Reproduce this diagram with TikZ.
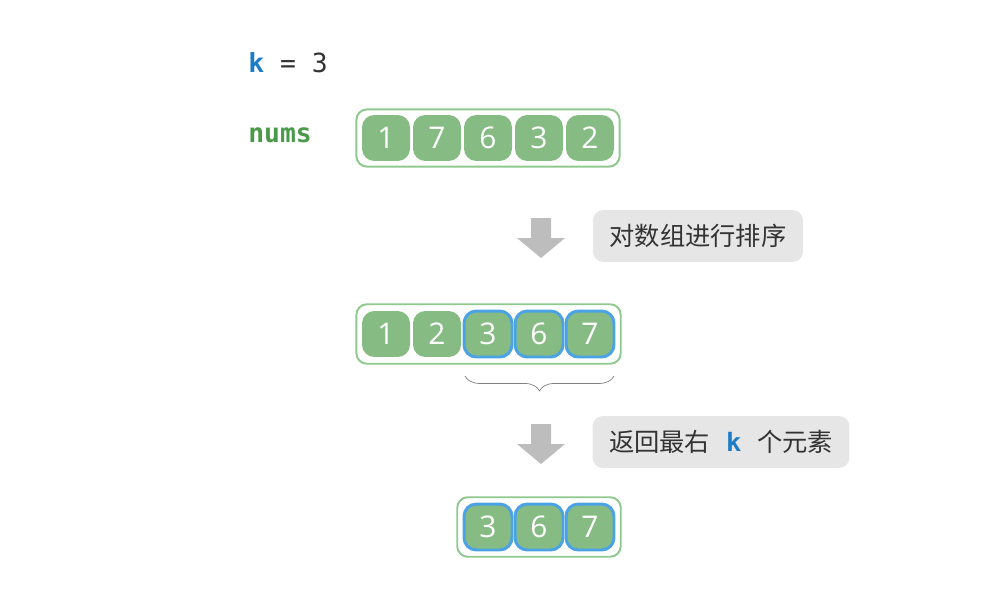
\documentclass[tikz,border=0pt]{standalone}
\usepackage{fontspec}
\setmainfont{Open Sans}
\setmonofont{DejaVu Sans Mono}
\newfontfamily\cjk{Noto Sans CJK SC}
\usetikzlibrary{fit,decorations.pathreplacing}

\definecolor{cellgreen}{HTML}{86BC84}
\definecolor{boxgreen}{HTML}{8FC98D}
\definecolor{cellblue}{HTML}{4BA3E6}
\definecolor{kblue}{HTML}{1C7CC6}
\definecolor{numsgreen}{HTML}{4B994B}
\definecolor{labelgray}{HTML}{E6E6E6}
\definecolor{textgray}{HTML}{333333}
\definecolor{arrowgray}{HTML}{BDBDBD}

\tikzset{
  cell/.style={fill=cellgreen, rounded corners=7pt, minimum width=0.96cm,
    minimum height=0.92cm, inner sep=0pt, text=white,
    font=\fontsize{17}{20}\selectfont},
  topcell/.style={cell, draw=cellblue, line width=1.7pt},
  rowbox/.style={draw=boxgreen, line width=1.1pt, rounded corners=6pt, inner sep=3pt},
  stepnote/.style={fill=labelgray, rounded corners=6pt, text=textgray,
    minimum height=1.04cm, inner xsep=0.33cm, font=\fontsize{14.4}{17}\selectfont},
}

\begin{document}
\begin{tikzpicture}[x=0.02cm, y=-0.02cm]
\useasboundingbox (0,0) rectangle (994,612);

% input
\node[anchor=west, inner sep=0pt, font=\ttfamily\fontsize{15}{18}\selectfont, text=textgray]
  (kval) at (248,63) {{\bfseries\color{kblue}k}~=~3};
\node[anchor=west, inner sep=0pt, font=\ttfamily\bfseries\fontsize{15}{18}\selectfont, text=numsgreen]
  (numslabel) at (248,135) {nums};

\foreach \v [count=\i] in {1,7,6,3,2}
  \node[cell] (a\i) at ({386+51*(\i-1)},138) {\v};
\node[rowbox, fit=(a1)(a5)] (toprow) {};

% sort
\fill[arrowgray] (531,218) -- (551,218) -- (551,238) -- (565,238) -- (541,258)
  -- (517,238) -- (531,238) -- cycle;
\node[stepnote] (sortnote) at (698,236) {\cjk 对数组进行排序};

\foreach \v [count=\i] in {1,2}
  \node[cell] (b\i) at ({386+51*(\i-1)},334) {\v};
\foreach \v [count=\i from 3] in {3,6,7}
  \node[topcell] (b\i) at ({386+51*(\i-1)},334) {\v};
\node[rowbox, fit=(b1)(b5)] (sortedrow) {};

\coordinate (bracel) at (465,376);
\coordinate (bracer) at (614,376);
\draw[gray, thin, decorate, decoration={brace, mirror, amplitude=8.5pt}] (bracel) -- (bracer);

% take last k
\fill[arrowgray] (531,424) -- (551,424) -- (551,444) -- (565,444) -- (541,464)
  -- (517,444) -- (531,444) -- cycle;
\node[stepnote] (takenote) at (721,442) {{\cjk 返回最右}\hspace{9pt}{\ttfamily\bfseries\color{kblue}k}\hspace{9pt}{\cjk 个元素}};

\foreach \v [count=\i] in {3,6,7}
  \node[topcell] (c\i) at ({488+51*(\i-1)},527) {\v};
\node[rowbox, fit=(c1)(c3)] (resultrow) {};
\end{tikzpicture}
\end{document}
